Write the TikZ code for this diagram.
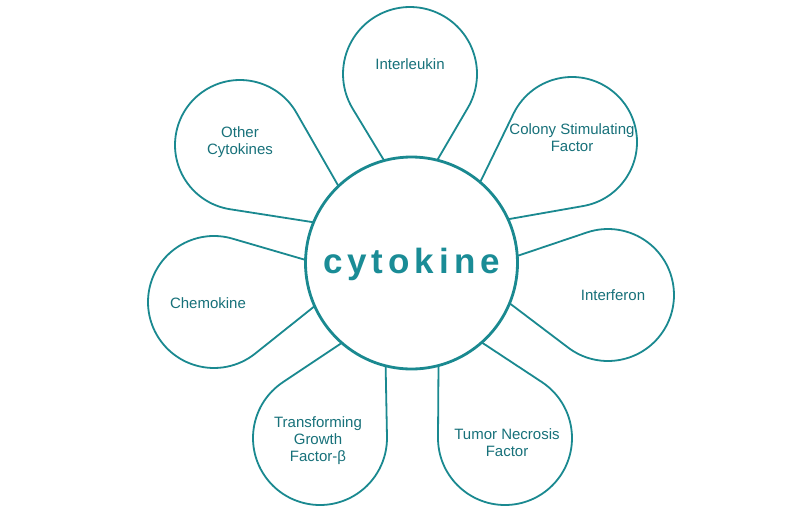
\documentclass[tikz,border=0pt]{standalone}
\usepackage{fontspec}
\setmainfont{Liberation Sans}
\definecolor{petalcol}{HTML}{1A8990}
\definecolor{ptextcol}{HTML}{17717A}
\definecolor{bigcol}{HTML}{1A8C96}
\tikzset{
  x=1pt, y=1pt,
  petalline/.style={draw=petalcol, line width=1.8pt, fill=white, line join=round},
  maincircle/.style={draw=petalcol, line width=2.8pt, fill=white, circle, minimum size=212pt, inner sep=0pt},
  ptext/.style={text=ptextcol, font=\fontsize{15}{17}\selectfont, align=center, inner sep=0pt},
  bigtext/.style={text=bigcol, font=\fontsize{35}{40}\selectfont\bfseries, inner sep=0pt, anchor=base}
}
% #1,#2 petal centre (image px), #3 radius, #4 apex distance from main centre
\newcommand{\mypetal}[4]{%
  \pgfmathsetmacro{\pdx}{#1-411.5}%
  \pgfmathsetmacro{\pdy}{263-#2}%
  \pgfmathsetmacro{\pd}{veclen(\pdx,\pdy)}%
  \pgfmathsetmacro{\pang}{atan2(\pdy,\pdx)}%
  \pgfmathsetmacro{\pphi}{acos(#3/(\pd-#4))}%
  \pgfmathsetmacro{\ptx}{\pd-#3*cos(\pphi)}%
  \pgfmathsetmacro{\pty}{#3*sin(\pphi)}%
  \begin{scope}[shift={(411.5,-263)}, rotate=\pang]
    \draw[petalline] (#4,0) -- (\ptx,-\pty)
      arc[start angle=-180+\pphi, end angle=180-\pphi, radius=#3] -- cycle;
  \end{scope}}
\begin{document}
\begin{tikzpicture}
  \useasboundingbox (0,0) rectangle (800,-509);
  \fill[white] (0,0) rectangle (800,-509);
  % petals
  \mypetal{410}{74}{67}{58}
  \mypetal{572}{142}{65}{58}
  \mypetal{608}{295}{66}{58}
  \mypetal{505}{438}{67}{58}
  \mypetal{320}{438}{67}{58}
  \mypetal{214}{302}{66}{58}
  \mypetal{240}{145}{65}{58}
  % centre
  \node[maincircle] (main) at (411.5,-263) {};
  \node[bigtext] (cyto) at (411.5,-273) {c\kern5pt y\kern5pt t\kern5pt o\kern5pt k\kern5pt i\kern5pt n\kern5pt e};
  % labels
  \node[ptext] (il) at (410,-64) {Interleukin};
  \node[ptext] (csf) at (572,-138) {Colony Stimulating\\Factor};
  \node[ptext] (ifn) at (613,-295) {Interferon};
  \node[ptext] (tnf) at (507,-443) {Tumor Necrosis\\Factor};
  \node[ptext] (tgf) at (318,-441) {Transforming\\Growth\\Factor-β};
  \node[ptext] (chem) at (208,-303) {Chemokine};
  \node[ptext] (oth) at (240,-142) {Other\\Cytokines};
\end{tikzpicture}
\end{document}
